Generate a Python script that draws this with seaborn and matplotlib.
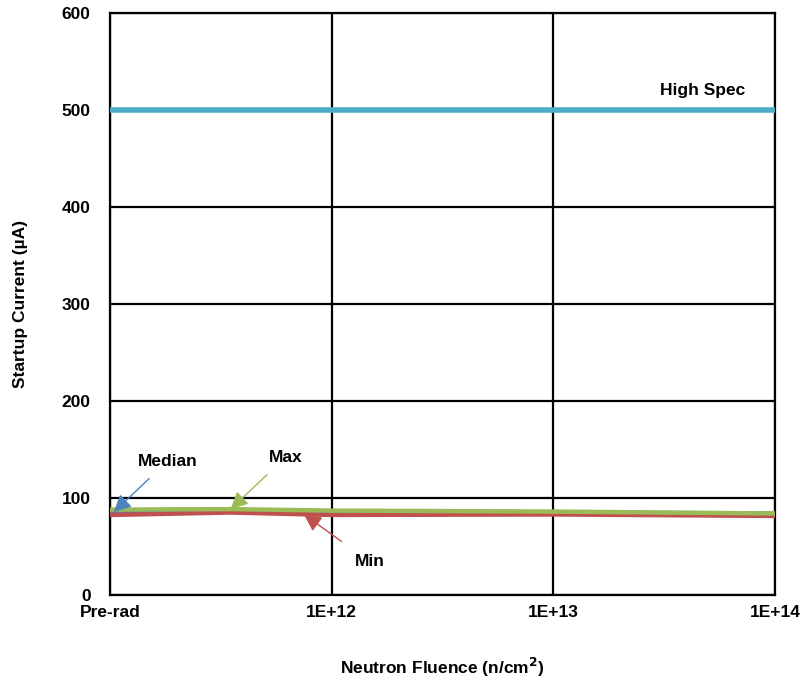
import matplotlib
matplotlib.use("Agg")
import matplotlib.pyplot as plt
import seaborn as sns
import pandas as pd

# Neutron fluence steps (Pre-rad plotted one decade below 1E+12)
fluence = [1e11, 3.5e11, 1e12, 1e13, 1e14]
tick_pos = [1e11, 1e12, 1e13, 1e14]
tick_labels = ["Pre-rad", "1E+12", "1E+13", "1E+14"]

# Startup current (µA)
median_vals = [85.5, 87.0, 85.0, 85.0, 84.0]
min_vals = [82.5, 85.0, 82.5, 83.0, 81.5]
max_vals = [88.0, 88.5, 87.0, 86.0, 84.0]
high_spec = 500

sns.set_theme(style="white")
plt.rcParams["font.family"] = ["Liberation Sans", "DejaVu Sans"]
plt.rcParams["text.color"] = "black"
plt.rcParams["xtick.color"] = "black"
plt.rcParams["ytick.color"] = "black"
plt.rcParams["axes.labelcolor"] = "black"

df = pd.DataFrame({
    "fluence": fluence * 3,
    "current": median_vals + min_vals + max_vals,
    "series": ["Median"] * 5 + ["Min"] * 5 + ["Max"] * 5,
})

fig = plt.figure(figsize=(8.04, 6.82), dpi=100)
ax = fig.add_axes([0.1368, 0.1276, 0.8272, 0.8534])

palette = {"Median": "#4F81BD", "Min": "#C0504D", "Max": "#9BBB59"}
sns.lineplot(data=df, x="fluence", y="current", hue="series",
             hue_order=["Median", "Min", "Max"], palette=palette,
             linewidth=3.2, legend=False, ax=ax, zorder=3)
ax.axhline(high_spec, color="#4BACC6", linewidth=4, zorder=3)

ax.set_xscale("log")
ax.set_xlim(1e11, 1e14)
ax.set_ylim(0, 600)
ax.set_yticks(range(0, 601, 100))
ax.set_xticks(tick_pos)
ax.set_xticklabels(tick_labels)
ax.minorticks_off()
ax.grid(True, color="black", linewidth=1.6)
for s in ax.spines.values():
    s.set_color("black")
    s.set_linewidth(1.6)
fs = 12.5
ax.tick_params(axis="both", length=0, labelsize=fs)
for lbl in ax.get_xticklabels() + ax.get_yticklabels():
    lbl.set_fontweight("bold")
ax.tick_params(axis="x", pad=7)
ax.tick_params(axis="y", pad=14)

ax.set_xlabel("Neutron Fluence (n/cm$^\\mathbf{2}$)", fontsize=fs,
              fontweight="bold", labelpad=26)
ax.set_ylabel("Startup Current (µA)", fontsize=fs, fontweight="bold",
              labelpad=24)

ax.text(4.7e13, 512, "High Spec", fontsize=fs, fontweight="bold",
        ha="center", va="bottom")

arrow_kw = dict(fontsize=fs, fontweight="bold", ha="center", va="center")
ax.annotate("Median", xy=(1.04e11, median_vals[0]), xytext=(1.82e11, 138),
            arrowprops=dict(arrowstyle="-|>", color="#4F81BD", lw=1,
                            mutation_scale=26, shrinkA=7, shrinkB=0),
            **arrow_kw)
ax.annotate("Max", xy=(3.5e11, max_vals[1]), xytext=(6.2e11, 142),
            arrowprops=dict(arrowstyle="-|>", color="#9BBB59", lw=1,
                            mutation_scale=26, shrinkA=7, shrinkB=0),
            **arrow_kw)
ax.annotate("Min", xy=(7.5e11, 83.0), xytext=(1.49e12, 34),
            arrowprops=dict(arrowstyle="-|>", color="#C0504D", lw=1,
                            mutation_scale=26, shrinkA=12, shrinkB=0),
            **arrow_kw)

fig.savefig("out.png", dpi=100)
